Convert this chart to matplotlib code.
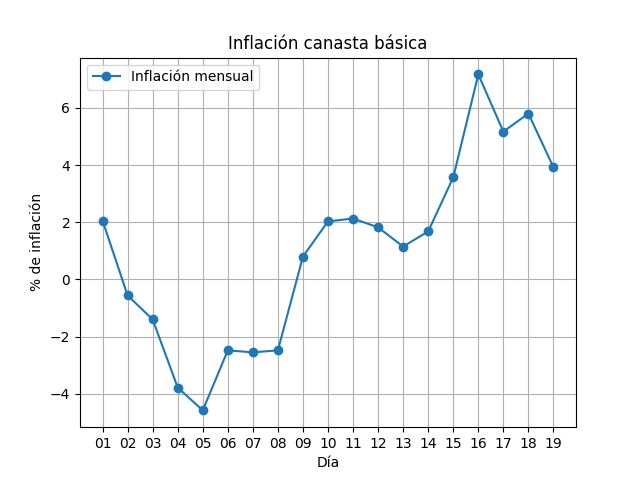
import matplotlib
matplotlib.use("Agg")
import matplotlib.pyplot as plt

dias = ["01","02","03","04","05","06","07","08","09","10","11","12","13","14","15","16","17","18","19"]
inflacion = [2.06, -0.56, -1.40, -3.78, -4.58, -2.48, -2.55, -2.48, 0.80, 2.03, 2.13, 1.82, 1.15, 1.68, 3.57, 7.17, 5.17, 5.80, 3.92]

fig, ax = plt.subplots(figsize=(6.4, 4.8), dpi=100)
ax.plot(dias, inflacion, marker="o", label="Inflación mensual")
ax.set_title("Inflación canasta básica")
ax.set_xlabel("Día")
ax.set_ylabel("% de inflación")
ax.grid(True)
ax.legend(loc="upper left")
fig.savefig("out.png")
